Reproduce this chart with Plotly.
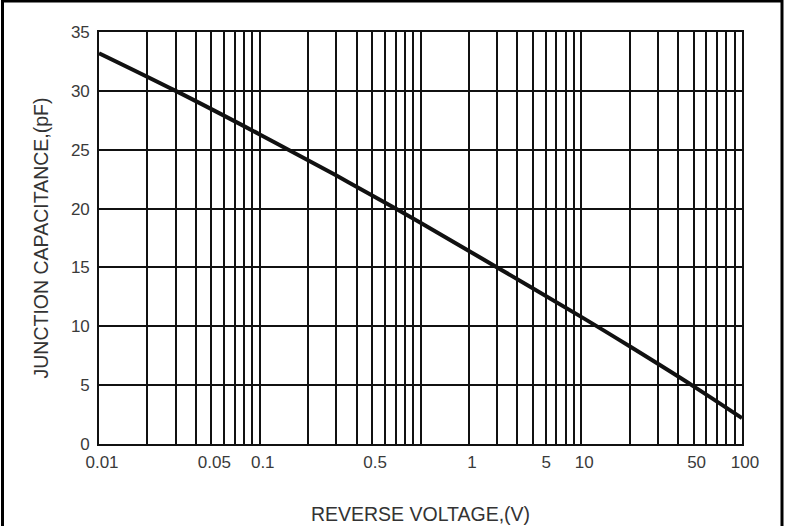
import plotly.graph_objects as go

# Data
voltage = [0.01, 0.03, 0.1, 0.3, 0.7, 1, 3, 10, 20, 50, 100]
capacitance = [33.2, 30.0, 26.3, 22.8, 20.0, 18.8, 15.0, 10.8, 8.3, 4.9, 2.2]

# Tick labels as printed in the reference (labels "1" and "5" sit off their grid lines there)
x_tick_vals = [0.01, 0.05, 0.1, 0.5, 2, 5.8, 10, 50, 100]
x_tick_text = ["0.01", "0.05", "0.1", "0.5", "1", "5", "10", "50", "100"]
y_tick_vals = [0, 5, 10, 15, 20, 25, 30, 35]

grid_vals = [k * 10.0 ** e for e in range(-2, 2) for k in range(1, 10)] + [100]

FONT = "Liberation Sans, Arial, sans-serif"
W, H = 787, 526
ML, MR, MT, MB = 99, 45, 32, 82
pw, ph = W - ML - MR, H - MT - MB

fig = go.Figure()
fig.add_trace(go.Scatter(
    x=voltage, y=capacitance, mode="lines",
    line=dict(color="#111111", width=4, shape="spline", smoothing=1.0),
    showlegend=False, hoverinfo="x+y",
))

fig.update_xaxes(
    type="log", range=[-2, 2], automargin=False,
    tickmode="array", tickvals=x_tick_vals, ticktext=x_tick_text,
    ticks="", showgrid=False, zeroline=False,
    showline=True, linecolor="#111111", linewidth=1.5, mirror=True,
    tickfont=dict(family=FONT, size=17, color="#3a3a3a"),
    ticklabelshift=3, ticklabelstandoff=2,
    minor=dict(tickmode="array", tickvals=grid_vals, showgrid=True,
               gridcolor="#111111", gridwidth=1.6, ticks=""),
    title=dict(text="REVERSE VOLTAGE,(V)", standoff=36,
               font=dict(family=FONT, size=19.5, color="#333333")),
)
fig.update_yaxes(
    range=[0, 35], tickmode="array", tickvals=y_tick_vals, automargin=False,
    ticks="", showgrid=True, gridcolor="#111111", gridwidth=1.6, zeroline=False,
    showline=True, linecolor="#111111", linewidth=1.6, mirror=True,
    tickfont=dict(family=FONT, size=17, color="#3a3a3a"),
    ticklabelstandoff=4,
    title=dict(text="JUNCTION CAPACITANCE,(pF)", standoff=17,
               font=dict(family=FONT, size=19.5, color="#333333")),
)

# Outer frame around the figure (bottom edge falls outside the picture)
fig.add_shape(type="rect", xref="paper", yref="paper",
              x0=(2.5 - ML) / pw, x1=(782 - ML) / pw,
              y0=-(H + 20 - MT - ph) / ph, y1=(ph + MT - 1) / ph,
              line=dict(color="#000000", width=3), fillcolor="rgba(0,0,0,0)")

fig.update_layout(
    width=W, height=H,
    margin=dict(l=ML, r=MR, t=MT, b=MB),
    paper_bgcolor="white", plot_bgcolor="white",
    font=dict(family=FONT),
)

fig.write_html("out.html", config={"displayModeBar": False},
               post_script="document.body.style.margin='0';document.body.style.overflow='hidden';")
